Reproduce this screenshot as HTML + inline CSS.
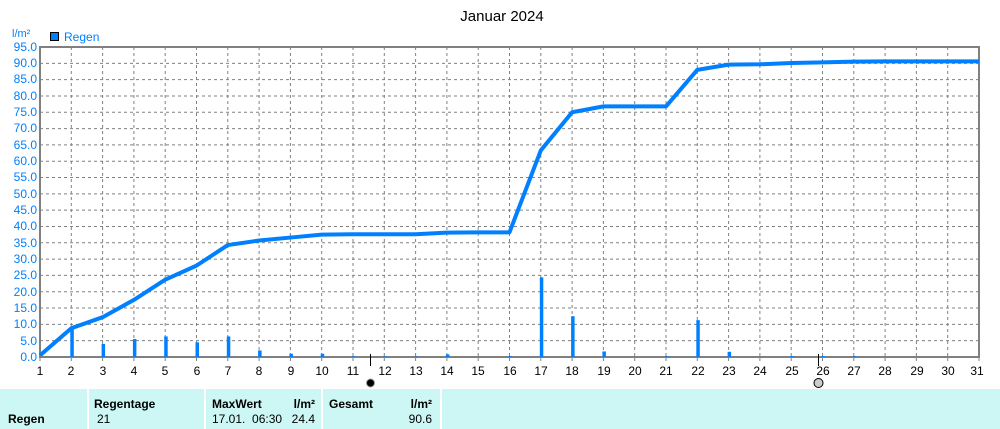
<!DOCTYPE html>
<html><head><meta charset="utf-8"><style>
body{margin:0;width:1000px;height:429px;overflow:hidden;background:#fff;font-family:"Liberation Sans",sans-serif}
svg{position:absolute;left:0;top:0}
.tb{position:absolute;top:389px;height:40px;background:#cdf7f4;font-size:12px;color:#000}
</style></head><body>
<svg width="1000" height="429" id="s" font-family="Liberation Sans, sans-serif" font-size="12">
<text x="502" y="21" text-anchor="middle" font-size="15" fill="#000">Januar 2024</text>
<text x="12" y="37" fill="#0080ff" font-size="11">l/m²</text>
<rect x="50.5" y="32.5" width="8" height="8" fill="#0080ff" stroke="#000"/>
<text x="64" y="41" fill="#0080ff" font-size="12">Regen</text>
<g id="g"></g>
<g fill="#0080ff" text-anchor="end">
<text x="37" y="361">0.0</text><text x="37" y="345">5.0</text><text x="37" y="328">10.0</text><text x="37" y="312">15.0</text><text x="37" y="296">20.0</text><text x="37" y="279">25.0</text><text x="37" y="263">30.0</text><text x="37" y="247">35.0</text><text x="37" y="230">40.0</text><text x="37" y="214">45.0</text><text x="37" y="198">50.0</text><text x="37" y="181">55.0</text><text x="37" y="165">60.0</text><text x="37" y="149">65.0</text><text x="37" y="132">70.0</text><text x="37" y="116">75.0</text><text x="37" y="100">80.0</text><text x="37" y="83">85.0</text><text x="37" y="67">90.0</text><text x="37" y="51">95.0</text>
</g>
<g fill="#000" text-anchor="middle">
<text x="40" y="375">1</text><text x="71" y="375">2</text><text x="103" y="375">3</text><text x="134" y="375">4</text><text x="165" y="375">5</text><text x="197" y="375">6</text><text x="228" y="375">7</text><text x="259" y="375">8</text><text x="291" y="375">9</text><text x="322" y="375">10</text><text x="353" y="375">11</text><text x="385" y="375">12</text><text x="416" y="375">13</text><text x="447" y="375">14</text><text x="478" y="375">15</text><text x="510" y="375">16</text><text x="541" y="375">17</text><text x="572" y="375">18</text><text x="604" y="375">19</text><text x="635" y="375">20</text><text x="666" y="375">21</text><text x="698" y="375">22</text><text x="729" y="375">23</text><text x="760" y="375">24</text><text x="792" y="375">25</text><text x="823" y="375">26</text><text x="854" y="375">27</text><text x="885" y="375">28</text><text x="917" y="375">29</text><text x="948" y="375">30</text><text x="977" y="375">31</text>
</g>
<line x1="370.5" y1="354" x2="370.5" y2="366" stroke="#000"/>
<circle cx="370.5" cy="383" r="4" fill="#000" stroke="#999"/>
<line x1="818.5" y1="354" x2="818.5" y2="366" stroke="#000"/>
<circle cx="818.5" cy="383" r="4.5" fill="#ccc" stroke="#000"/>
</svg>
<div class="tb" style="left:0;width:87px"><b style="position:absolute;left:8px;top:23px">Regen</b></div>
<div class="tb" style="left:89px;width:115px"><b style="position:absolute;left:5px;top:8px">Regentage</b><span style="position:absolute;left:8px;top:23px">21</span></div>
<div class="tb" style="left:206px;width:115px"><b style="position:absolute;left:6px;top:8px">MaxWert</b><b style="position:absolute;right:6px;top:8px">l/m²</b><span style="position:absolute;left:6px;top:23px">17.01.&nbsp;&nbsp;06:30</span><span style="position:absolute;right:6px;top:23px">24.4</span></div>
<div class="tb" style="left:323px;width:117px"><b style="position:absolute;left:6px;top:8px">Gesamt</b><b style="position:absolute;right:8px;top:8px">l/m²</b><span style="position:absolute;right:8px;top:23px">90.6</span></div>
<div class="tb" style="left:442px;width:558px"></div>
<script>
var g=document.getElementById('g'),h='';
function X(d){return 40+(d-1)*31.3}function Y(v){return 357-v*310/95}
for(var d=2;d<=30;d++)h+='<line x1="'+X(d)+'" y1="47" x2="'+X(d)+'" y2="357" stroke="#808080" stroke-dasharray="3,3"/>';
for(var i=1;i<19;i++)h+='<line x1="40" y1="'+Y(i*5)+'" x2="979" y2="'+Y(i*5)+'" stroke="#808080" stroke-dasharray="3,3"/>';
for(var d=1;d<=31;d++)h+='<line x1="'+X(d)+'" y1="357" x2="'+X(d)+'" y2="361" stroke="#808080"/>';
h+='<rect x="40" y="47" width="939" height="310" fill="none" stroke="#808080" stroke-width="2"/>';
var b={2:8.8,3:4,4:5.5,5:6.3,6:4.5,7:6.3,8:2,9:1,10:1,11:.2,12:.2,13:.2,14:.8,16:.3,17:24.4,18:12.5,19:1.7,21:.3,22:11.3,23:1.6,25:.3,26:.3,27:.3};
for(var k in b)h+='<rect x="'+(X(+k)-1)+'" y="'+Y(b[k])+'" width="3.5" height="'+(b[k]*310/95)+'" fill="#0080ff"/>';
var c=[0.5,8.8,12.2,17.5,23.7,28,34.3,35.7,36.6,37.5,37.6,37.6,37.6,38.1,38.2,38.2,63.3,75,76.8,76.8,76.8,88,89.6,89.7,90.1,90.3,90.5,90.6,90.6,90.6,90.6];
var p=c.map(function(v,i){return X(i+1)+','+Y(v)}).join(' ');
h+='<polyline points="'+p+'" fill="none" stroke="#0080ff" stroke-width="4" stroke-linejoin="round"/>';
g.innerHTML=h;
</script>
</body></html>
